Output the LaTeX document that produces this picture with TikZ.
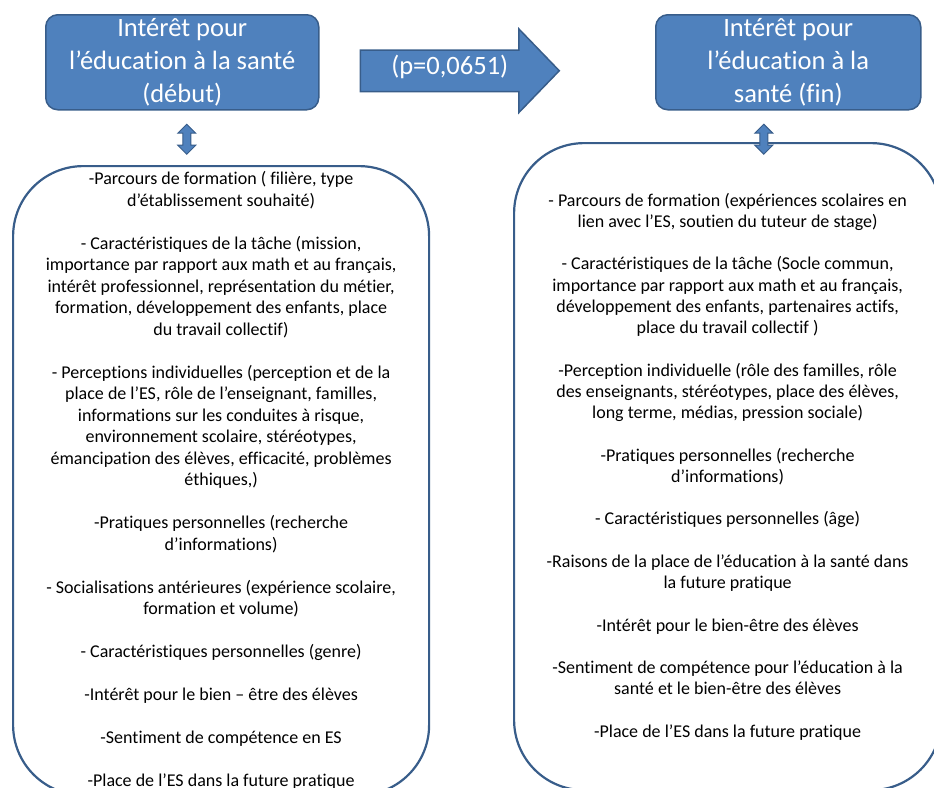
\documentclass[tikz,border=0pt]{standalone}
\usepackage{fontspec}
\setmainfont{Carlito}[Ligatures=NoCommon]
\usetikzlibrary{positioning, shapes.arrows}

\definecolor{bleu}{HTML}{4F81BD}
\definecolor{bleufonce}{HTML}{385D8A}

\begin{document}
\begin{tikzpicture}[
    x=1pt, y=-1pt, % pixel grid of the slide, y going down
    titre/.style={draw=bleufonce, fill=bleu, line width=1.5pt, rounded corners=12pt, text=white, align=center, font=\fontsize{26.5}{33}\selectfont, inner sep=0pt},
    fleche/.style={single arrow, draw=bleufonce, fill=bleu, line width=1.5pt, text=white, font=\fontsize{26.5}{30}\selectfont, single arrow head extend=21pt, single arrow tip angle=92, minimum height=199pt, text height=14pt, text depth=6pt, inner ysep=10pt},
    lien/.style={double arrow, shape border rotate=90, draw=bleufonce, fill=bleu, line width=1pt, minimum height=30pt, inner sep=3.5pt, double arrow head extend=5pt},
    facteurs/.style={draw=bleufonce, line width=2.2pt, rounded corners=70pt, align=center, font=\fontsize{18}{21.5}\selectfont, inner sep=0pt}
]
\useasboundingbox (0,0) rectangle (934,787);

% Big boxes with the factors
\node (facteursDebut) [facteurs, minimum width=416pt, minimum height=629pt, anchor=north west] at (12,165) {%
-Parcours de formation ( filière, type\\
d’établissement souhaité)\\[21.5pt]
- Caractéristiques de la tâche (mission,\\
importance par rapport aux math et au français,\\
intérêt professionnel, représentation du métier,\\
formation, développement des enfants, place\\
du travail collectif)\\[21.5pt]
- Perceptions individuelles (perception et de la\\
place de l’ES, rôle de l’enseignant, familles,\\
informations sur les conduites à risque,\\
environnement scolaire, stéréotypes,\\
émancipation des élèves, efficacité, problèmes\\
éthiques,)\\[21.5pt]
-Pratiques personnelles (recherche\\
d’informations)\\[21.5pt]
- Socialisations antérieures (expérience scolaire,\\
formation et volume)\\[21.5pt]
- Caractéristiques personnelles (genre)\\[21.5pt]
-Intérêt pour le bien – être des élèves\\[21.5pt]
-Sentiment de compétence en ES\\[21.5pt]
-Place de l’ES dans la future pratique};

\node (facteursFin) [facteurs, font=\fontsize{18}{21.25}\selectfont, minimum width=427pt, minimum height=647pt, anchor=north west] at (513,142) {%
- Parcours de formation (expériences scolaires en\\
lien avec l’ES, soutien du tuteur de stage)\\[21.25pt]
- Caractéristiques de la tâche (Socle commun,\\
importance par rapport aux math et au français,\\
développement des enfants, partenaires actifs,\\
place du travail collectif )\\[21.25pt]
-Perception individuelle (rôle des familles, rôle\\
des enseignants, stéréotypes, place des élèves,\\
long terme, médias, pression sociale)\\[21.25pt]
-Pratiques personnelles (recherche\\
d’informations)\\[21.25pt]
- Caractéristiques personnelles (âge)\\[21.25pt]
-Raisons de la place de l’éducation à la santé dans\\
la future pratique\\[21.25pt]
-Intérêt pour le bien-être des élèves\\[21.25pt]
-Sentiment de compétence pour l’éducation à la\\
santé et le bien-être des élèves\\[21.25pt]
-Place de l’ES dans la future pratique};

% Interest at the start and at the end
\node (debut) [titre, minimum width=273pt, minimum height=95pt, anchor=north west] at (45,14) {Intérêt pour\\ l’éducation à la santé\\ (début)};
\node (fin) [titre, minimum width=265pt, minimum height=95pt, anchor=north west] at (655,14) {Intérêt pour\\ l’éducation à la\\ santé (fin)};

% Arrow with the p value
\node (pval) [fleche, right=40pt of debut, yshift=-8.5pt] {(p=0,0651)};

% Links between interest and factors
\node (lienDebut) [lien, below=13pt of debut, xshift=4.5pt] {};
\node (lienFin) [lien, below=13pt of fin, xshift=-24.5pt] {};

\end{tikzpicture}
\end{document}
